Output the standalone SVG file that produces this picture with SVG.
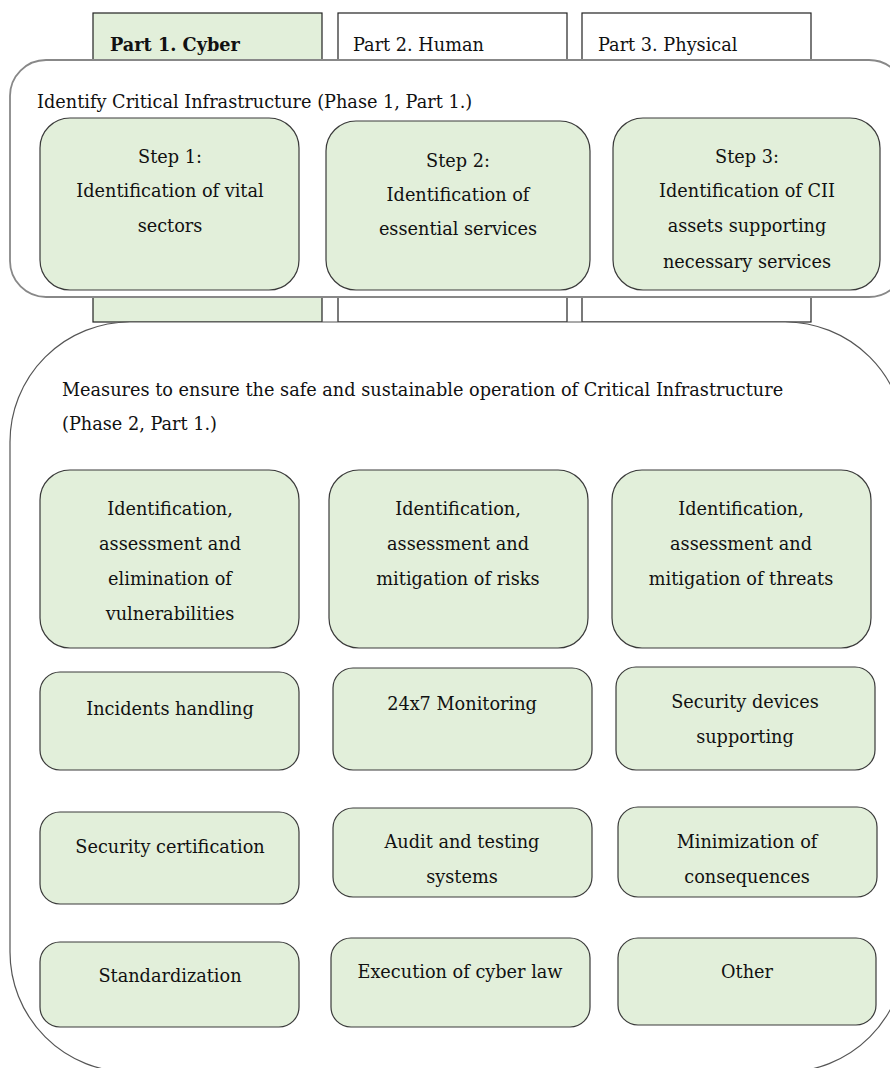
<svg xmlns="http://www.w3.org/2000/svg" width="890" height="1068" viewBox="0 0 890 1068">
<style>
text{font-family:"DejaVu Serif","Liberation Serif",serif;font-size:17.7px;fill:#111}
.c{text-anchor:middle}
.b{font-weight:bold}
.col{stroke:#222;stroke-width:1.2}
.node{fill:#e2efda;stroke:#3a3a3a;stroke-width:1.2}
.cont1{fill:#fff;stroke:#888;stroke-width:1.8}
.cont2{fill:#fff;stroke:#555;stroke-width:1.2}
</style>
<g id="part1"><rect class="col" x="93" y="13" width="229" height="309" fill="#e2efda"/><text class="b" x="110" y="51">Part 1. Cyber</text></g>
<g id="part2"><rect class="col" x="338" y="13" width="229" height="309" fill="#fff"/><text x="353" y="51">Part 2. Human</text></g>
<g id="part3"><rect class="col" x="582" y="13" width="229" height="309" fill="#fff"/><text x="598" y="51">Part 3. Physical</text></g>
<g id="phase1">
<rect class="cont1" x="10" y="60" width="895" height="237" rx="36"/>
<text x="37" y="108">Identify Critical Infrastructure (Phase 1, Part 1.)</text>
</g>
<g id="step1"><rect class="node" x="40" y="118" width="259" height="172" rx="30"/>
<text class="c" x="170" y="163">Step 1:</text><text class="c" x="170" y="197">Identification of vital</text><text class="c" x="170" y="232">sectors</text></g>
<g id="step2"><rect class="node" x="326" y="121" width="264" height="169" rx="30"/>
<text class="c" x="458" y="167">Step 2:</text><text class="c" x="458" y="201">Identification of</text><text class="c" x="458" y="235">essential services</text></g>
<g id="step3"><rect class="node" x="613" y="118" width="267" height="172" rx="30"/>
<text class="c" x="747" y="163">Step 3:</text><text class="c" x="747" y="197">Identification of CII</text><text class="c" x="747" y="232">assets supporting</text><text class="c" x="747" y="268">necessary services</text></g>
<g id="phase2">
<rect class="cont2" x="10" y="322" width="895" height="750" rx="120"/>
<text x="62" y="396">Measures to ensure the safe and sustainable operation of Critical Infrastructure</text>
<text x="62" y="430">(Phase 2, Part 1.)</text>
</g>
<g id="vuln"><rect class="node" x="40" y="470" width="259" height="178" rx="30"/>
<text class="c" x="170" y="515">Identification,</text><text class="c" x="170" y="550">assessment and</text><text class="c" x="170" y="585">elimination of</text><text class="c" x="170" y="620">vulnerabilities</text></g>
<g id="risks"><rect class="node" x="329" y="470" width="259" height="178" rx="30"/>
<text class="c" x="458" y="515">Identification,</text><text class="c" x="458" y="550">assessment and</text><text class="c" x="458" y="585">mitigation of risks</text></g>
<g id="threats"><rect class="node" x="612" y="470" width="259" height="178" rx="30"/>
<text class="c" x="741" y="515">Identification,</text><text class="c" x="741" y="550">assessment and</text><text class="c" x="741" y="585">mitigation of threats</text></g>
<g id="incidents"><rect class="node" x="40" y="672" width="259" height="98" rx="20"/>
<text class="c" x="170" y="715">Incidents handling</text></g>
<g id="monitoring"><rect class="node" x="333" y="668" width="259" height="102" rx="20"/>
<text class="c" x="462" y="710">24x7 Monitoring</text></g>
<g id="devices"><rect class="node" x="616" y="667" width="259" height="103" rx="20"/>
<text class="c" x="745" y="708">Security devices</text><text class="c" x="745" y="743">supporting</text></g>
<g id="cert"><rect class="node" x="40" y="812" width="259" height="92" rx="20"/>
<text class="c" x="170" y="853">Security certification</text></g>
<g id="audit"><rect class="node" x="333" y="808" width="259" height="89" rx="20"/>
<text class="c" x="462" y="848">Audit and testing</text><text class="c" x="462" y="883">systems</text></g>
<g id="minim"><rect class="node" x="618" y="807" width="259" height="90" rx="20"/>
<text class="c" x="747" y="848">Minimization of</text><text class="c" x="747" y="883">consequences</text></g>
<g id="std"><rect class="node" x="40" y="942" width="259" height="85" rx="20"/>
<text class="c" x="170" y="982">Standardization</text></g>
<g id="law"><rect class="node" x="331" y="938" width="259" height="89" rx="20"/>
<text class="c" x="460" y="978">Execution of cyber law</text></g>
<g id="other"><rect class="node" x="618" y="938" width="258" height="87" rx="20"/>
<text class="c" x="747" y="978">Other</text></g>
<g id="connectors"></g>
</svg>
